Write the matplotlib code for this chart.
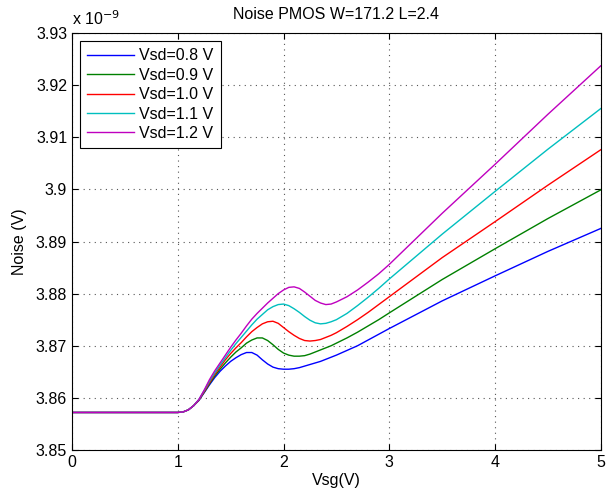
import matplotlib.pyplot as plt
from matplotlib.ticker import FuncFormatter

plt.rcParams['font.family'] = ['Liberation Sans', 'DejaVu Sans']

TITLE = 'Noise PMOS W=171.2 L=2.4'
X_LABEL = 'Vsg(V)'
Y_LABEL = 'Noise (V)'
LABELS = ['Vsd=0.8 V', 'Vsd=0.9 V', 'Vsd=1.0 V', 'Vsd=1.1 V', 'Vsd=1.2 V']
COLORS = ['#0000ff', '#008000', '#ff0000', '#00bfbf', '#bf00bf']

# gate voltage (V)
vsg = [0.0, 1.0, 1.05, 1.1, 1.15, 1.2, 1.25, 1.3, 1.35, 1.4, 1.45, 1.5, 1.55,
       1.6, 1.65, 1.7, 1.75, 1.8, 1.85, 1.9, 1.95, 2.0, 2.05, 2.1, 2.15, 2.2,
       2.25, 2.3, 2.35, 2.4, 2.45, 2.5, 2.6, 2.7, 2.8, 2.9, 3.0, 3.5, 4.0, 4.5, 5.0]

# noise in units of 1e-9 V
noise_08 = [3.8572, 3.8572, 3.8573, 3.8577, 3.8585, 3.8595, 3.8610, 3.8625, 3.8639,
            3.8651, 3.8661, 3.8670, 3.8677, 3.8683, 3.8687, 3.8687, 3.8682, 3.8673,
            3.8665, 3.8659, 3.8656, 3.8655, 3.8655, 3.8656, 3.8658, 3.8661, 3.8664,
            3.8667, 3.8670, 3.8674, 3.8678, 3.8682, 3.8691, 3.8700, 3.8711, 3.8722,
            3.8733, 3.8786, 3.8834, 3.8881, 3.8925]
noise_09 = [3.8572, 3.8572, 3.8573, 3.8577, 3.8585, 3.8596, 3.8611, 3.8627, 3.8642,
            3.8655, 3.8667, 3.8678, 3.8688, 3.8696, 3.8705, 3.8711, 3.8715, 3.8715,
            3.8710, 3.8702, 3.8693, 3.8686, 3.8682, 3.8680, 3.8680, 3.8681, 3.8684,
            3.8688, 3.8692, 3.8696, 3.8700, 3.8705, 3.8715, 3.8726, 3.8738, 3.8750,
            3.8763, 3.8827, 3.8886, 3.8944, 3.8999]
noise_10 = [3.8572, 3.8572, 3.8573, 3.8577, 3.8585, 3.8596, 3.8612, 3.8629, 3.8645,
            3.8659, 3.8673, 3.8685, 3.8696, 3.8706, 3.8717, 3.8727, 3.8735, 3.8742,
            3.8746, 3.8747, 3.8743, 3.8735, 3.8727, 3.8720, 3.8714, 3.8710, 3.8709,
            3.8710, 3.8712, 3.8716, 3.8720, 3.8725, 3.8737, 3.8750, 3.8764, 3.8779,
            3.8794, 3.8869, 3.8938, 3.9008, 3.9076]
noise_11 = [3.8572, 3.8572, 3.8573, 3.8577, 3.8585, 3.8597, 3.8614, 3.8632, 3.8648,
            3.8663, 3.8677, 3.8691, 3.8704, 3.8716, 3.8728, 3.8740, 3.8751, 3.8760,
            3.8769, 3.8775, 3.8779, 3.8780, 3.8777, 3.8771, 3.8764, 3.8756, 3.8749,
            3.8744, 3.8742, 3.8743, 3.8746, 3.8750, 3.8762, 3.8777, 3.8793, 3.8810,
            3.8828, 3.8914, 3.8996, 3.9077, 3.9155]
noise_12 = [3.8572, 3.8572, 3.8573, 3.8577, 3.8585, 3.8597, 3.8615, 3.8635, 3.8652,
            3.8667, 3.8682, 3.8697, 3.8711, 3.8724, 3.8738, 3.8751, 3.8762, 3.8772,
            3.8782, 3.8791, 3.8800, 3.8807, 3.8812, 3.8813, 3.8810, 3.8803, 3.8795,
            3.8787, 3.8782, 3.8779, 3.8780, 3.8784, 3.8794, 3.8807, 3.8822, 3.8838,
            3.8856, 3.8954, 3.9048, 3.9144, 3.9237]
SERIES = [noise_08, noise_09, noise_10, noise_11, noise_12]

fig = plt.figure(figsize=(6.13, 4.98), dpi=100)
ax = fig.add_axes([0.1175, 0.0964, 0.8625, 0.8373])

for ys, lab, col in zip(SERIES, LABELS, COLORS):
    ax.plot(vsg, ys, color=col, linewidth=1.0, label=lab)

ax.set_xlim(0, 5)
ax.set_ylim(3.85, 3.93)
ax.set_xticks([0, 1, 2, 3, 4, 5])
ax.set_yticks([3.85, 3.86, 3.87, 3.88, 3.89, 3.90, 3.91, 3.92, 3.93])
ax.yaxis.set_major_formatter(FuncFormatter(lambda v, p: '%g' % round(v, 2)))
ax.tick_params(direction='in', top=True, right=True, labelsize=11.5, length=4)
ax.grid(True, linestyle=(0, (1, 4)), color='#555555', linewidth=0.8)
for s in ax.spines.values():
    s.set_linewidth(0.8)

ax.set_title(TITLE, fontsize=11.5, pad=10)
ax.set_xlabel(X_LABEL, fontsize=11.5, labelpad=2)
ax.set_ylabel(Y_LABEL, fontsize=11.5, labelpad=6)
ax.text(0.0, 1.012, r'x 10$^{-9}$', transform=ax.transAxes, fontsize=11.5,
        ha='left', va='bottom')

leg = ax.legend(loc='upper left', fontsize=11.5, fancybox=False, framealpha=1,
                edgecolor='black', borderaxespad=0.5, handlelength=2.9,
                handletextpad=0.35, labelspacing=0.28, borderpad=0.45)
leg.get_frame().set_linewidth(0.8)

fig.savefig('out.png', dpi=100)
